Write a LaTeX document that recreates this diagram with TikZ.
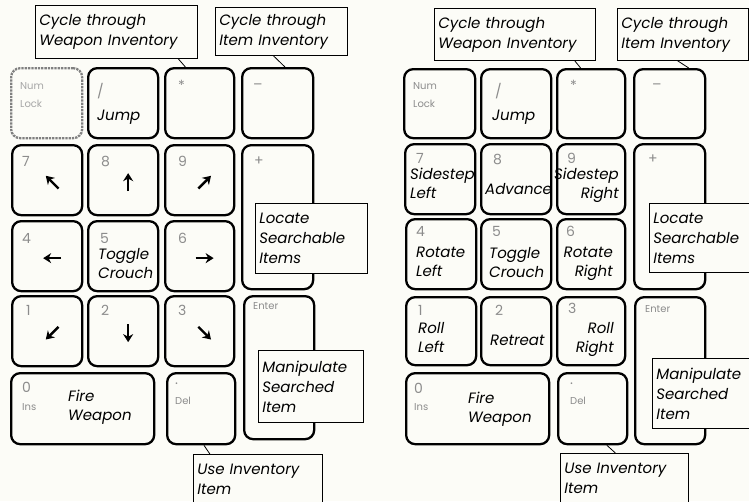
\documentclass[tikz,border=0pt]{standalone}
\usepackage{fontspec}
\setmainfont{Poppins}
\usetikzlibrary{arrows.meta,calc}
\definecolor{paper}{RGB}{252,252,247}

\begin{document}
\begin{tikzpicture}[
  x=1pt,
  y=-1pt,
  key/.style={draw, line width=2.3pt, rounded corners=9pt, anchor=north west, inner sep=0pt, minimum width=70pt, minimum height=70pt},
  dimkey/.style={key, draw=black!50, densely dotted},
  legend/.style={anchor=north west, inner sep=0pt, text=black!45, font=\fontsize{14}{14}\selectfont},
  tag/.style={anchor=north west, inner sep=0pt, text=black!45, align=left, font=\fontsize{10}{18}\selectfont},
  act/.style={anchor=north west, inner sep=0pt, align=left, font=\itshape\fontsize{15}{19}\selectfont},
  note/.style={draw, line width=0.8pt, fill=paper, anchor=north west, inner sep=4pt, align=left, font=\itshape\fontsize{15}{20}\selectfont},
  leader/.style={line width=0.8pt},
  arr/.style={-{Stealth[length=8pt,width=10pt]}, line width=2.4pt}
]
  \path[use as bounding box, clip] (0,0) rectangle (749,501);
  \fill[paper] (0,0) rectangle (749,501);

  % left keypad
  \node[dimkey, minimum width=71pt] (numL) at (10,67) {};
  \node[key] (slashL) at (87,67) {};
  \node[key, minimum width=69pt] (starL) at (164,67) {};
  \node[key, minimum width=71pt] (minusL) at (241,67) {};
  \node[key] (k7L) at (11,144) {};
  \node[key] (k8L) at (87,144) {};
  \node[key, minimum width=69pt] (k9L) at (164,144) {};
  \node[key, minimum width=71pt, minimum height=144pt] (plusL) at (241,144) {};
  \node[key] (k4L) at (11,220) {};
  \node[key] (k5L) at (87,220) {};
  \node[key, minimum width=69pt] (k6L) at (164,220) {};
  \node[key] (k1L) at (11,295) {};
  \node[key] (k2L) at (87,295) {};
  \node[key, minimum width=69pt] (k3L) at (164,295) {};
  \node[key, minimum height=143pt] (enterL) at (243,295) {};
  \node[key, minimum width=143pt, minimum height=71pt] (k0L) at (10,372) {};
  \node[key, minimum width=68pt, minimum height=71pt] (delL) at (166,372) {};

  \node[tag, text=black!35] at (20,82) {Num\\Lock};
  \node[legend] at (97,83) {/};
  \node[legend] at (178,80) {*};
  \node[legend] at (253,84) {--};
  \node[legend] at (22,156) {7};
  \node[legend] at (101,156) {8};
  \node[legend] at (178,156) {9};
  \node[legend] at (254,157) {+};
  \node[legend] at (22,233) {4};
  \node[legend] at (100,233) {5};
  \node[legend] at (178,233) {6};
  \node[legend] at (26,305) {1};
  \node[legend] at (101,305) {2};
  \node[legend] at (178,305) {3};
  \node[tag] at (253,302) {Enter};
  \node[legend] at (22,382) {0};
  \node[tag] at (22,403) {Ins};
  \node[legend] at (175,383) {.};
  \node[tag] at (175,397) {Del};

  \node[act] at (97,110) {Jump};
  \node[act] at (98,248) {Toggle\\Crouch};
  \node[act] at (68,390) {Fire\\Weapon};

  \foreach \k/\a in {k7L/225, k8L/270, k9L/315, k4L/180, k6L/0, k1L/135, k2L/90, k3L/45}
    \draw[arr] ($(\k.center)+(5,2)$) ++(\a+180:9) -- ++(\a:18);

  % right keypad
  \node[key, minimum width=71pt, minimum height=69pt] (numR) at (403,68) {};
  \node[key, minimum height=69pt] (slashR) at (480,68) {};
  \node[key, minimum width=68pt, minimum height=69pt] (starR) at (556,68) {};
  \node[key, minimum width=71pt, minimum height=69pt] (minusR) at (633,68) {};
  \node[key] (k7R) at (404,143) {};
  \node[key] (k8R) at (480,143) {};
  \node[key, minimum width=68pt] (k9R) at (556,143) {};
  \node[key, minimum width=71pt, minimum height=145pt] (plusR) at (633,143) {};
  \node[key] (k4R) at (405,218) {};
  \node[key] (k5R) at (480,218) {};
  \node[key, minimum width=68pt] (k6R) at (556,218) {};
  \node[key, minimum height=68pt] (k1R) at (405,296) {};
  \node[key, minimum height=68pt] (k2R) at (480,296) {};
  \node[key, minimum width=68pt, minimum height=68pt] (k3R) at (556,296) {};
  \node[key, minimum height=147pt] (enterR) at (634,296) {};
  \node[key, minimum width=143pt, minimum height=71pt] (k0R) at (405,372) {};
  \node[key, minimum width=69pt, minimum height=71pt] (delR) at (557,372) {};

  \node[tag] at (413,82) {Num\\Lock};
  \node[legend] at (495,83) {/};
  \node[legend] at (570,80) {*};
  \node[legend] at (652,84) {--};
  \node[legend] at (416,153) {7};
  \node[legend] at (493,154) {8};
  \node[legend] at (567,153) {9};
  \node[legend] at (648,155) {+};
  \node[legend] at (416,226) {4};
  \node[legend] at (492,226) {5};
  \node[legend] at (566,226) {6};
  \node[legend] at (418,305) {1};
  \node[legend] at (495,305) {2};
  \node[legend] at (568,303) {3};
  \node[tag] at (645,305) {Enter};
  \node[legend] at (414,383) {0};
  \node[tag] at (414,403) {Ins};
  \node[legend] at (570,383) {.};
  \node[tag] at (570,397) {Del};

  \node[act] at (492,110) {Jump};
  \node[act] at (410,168) {Sidestep\\Left};
  \node[act] at (485,183) {Advance};
  \node[act, anchor=north east, align=right] at (619,168) {Sidestep\\Right};
  \node[act] at (416,247) {Rotate\\Left};
  \node[act] at (489,247) {Toggle\\Crouch};
  \node[act, anchor=north east, align=right] at (613,247) {Rotate\\Right};
  \node[act] at (418,322) {Roll\\Left};
  \node[act] at (490,335) {Retreat};
  \node[act, anchor=north east, align=right] at (614,322) {Roll\\Right};
  \node[act] at (468,392) {Fire\\Weapon};

  % callouts
  \node[note, text width=154pt, minimum height=53pt] (wpnL) at (35,5) {Cycle through\\Weapon Inventory};
  \node[note, text width=124pt, minimum height=48pt] (itmL) at (215,7) {Cycle through\\Item Inventory};
  \node[note, text width=104pt, minimum height=70pt] (locL) at (255,203) {Locate\\Searchable\\Items};
  \node[note, text width=97pt, minimum height=72pt] (manL) at (258,350) {Manipulate\\Searched\\Item};
  \node[note, text width=121pt, minimum height=50pt] (useL) at (193,454) {Use Inventory\\Item};
  \node[note, text width=153pt, minimum height=52pt] (wpnR) at (434,8) {Cycle through\\Weapon Inventory};
  \node[note, text width=123pt, minimum height=52pt] (itmR) at (617,8) {Cycle through\\Item Inventory};
  \node[note, text width=100pt, minimum height=69pt] (locR) at (649,203) {Locate\\Searchable\\Items};
  \node[note, text width=100pt, minimum height=70pt] (manR) at (652,358) {Manipulate\\Searched\\Item};
  \node[note, text width=120pt, minimum height=50pt] (useR) at (560,453) {Use Inventory\\Item};

  \draw[leader] ($(wpnL.south west)!0.88!(wpnL.south east)$) -- ($(starL.north west)!0.30!(starL.north east)$);
  \draw[leader] ($(itmL.south west)!0.44!(itmL.south east)$) -- ($(minusL.north west)!0.60!(minusL.north east)$);
  \draw[leader] ($(delL.south west)!0.54!(delL.south east)$) -- ($(useL.north west)!0.13!(useL.north east)$);
  \draw[leader] ($(wpnR.south west)!0.87!(wpnR.south east)$) -- ($(starR.north west)!0.35!(starR.north east)$);
  \draw[leader] ($(itmR.south west)!0.46!(itmR.south east)$) -- ($(minusR.north west)!0.76!(minusR.north east)$);
  \draw[leader] ($(delR.south west)!0.70!(delR.south east)$) -- ($(useR.north west)!0.43!(useR.north east)$);
\end{tikzpicture}
\end{document}
